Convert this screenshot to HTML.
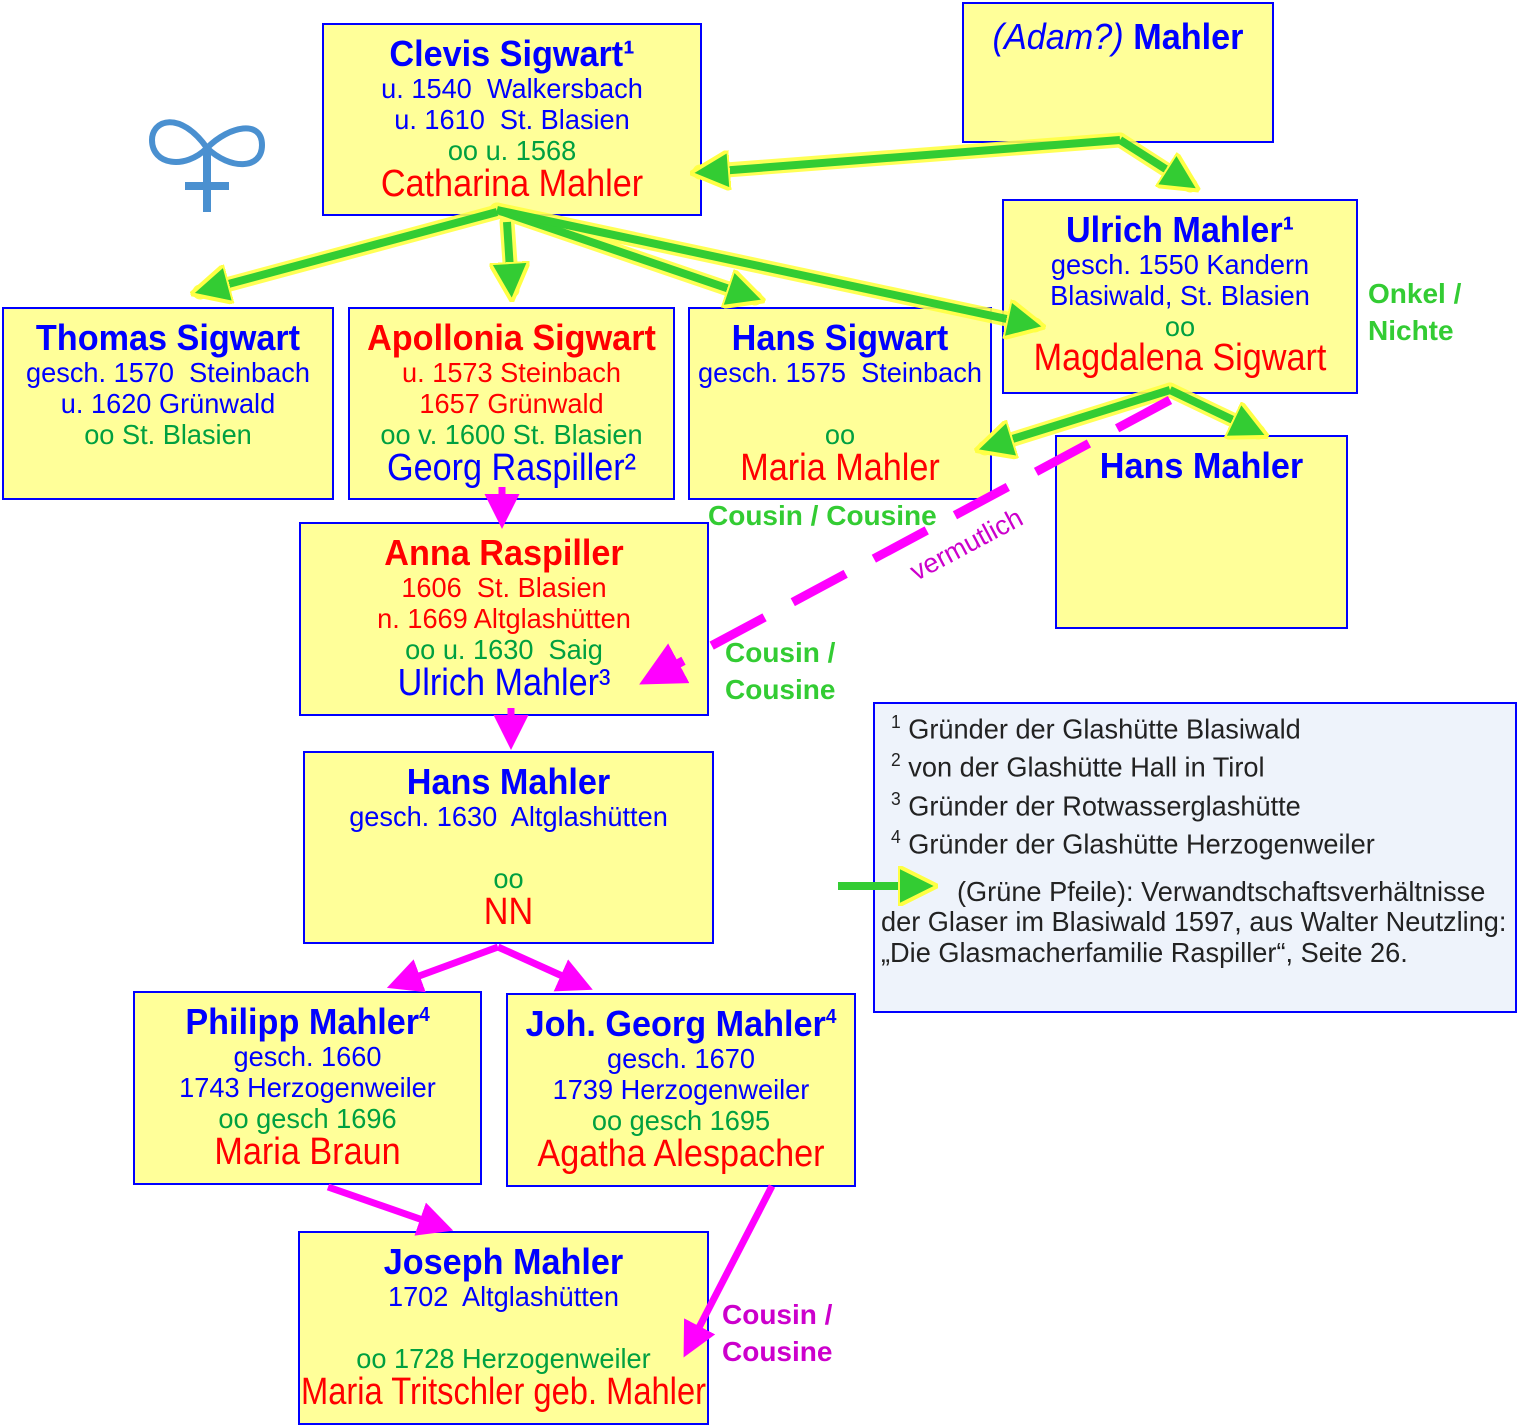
<!DOCTYPE html>
<html><head><meta charset="utf-8"><style>
body{margin:0;width:1518px;height:1427px;background:#fff;position:relative;overflow:hidden;font-family:"Liberation Sans",sans-serif;}
.b{position:absolute;background:#ffff99;border:2px solid #0000ff;box-sizing:border-box;text-align:center;}
.l{position:absolute;left:-60px;right:-60px;white-space:nowrap;transform:scaleX(0.97);}
.t,.tr{transform:scaleX(0.95);}
.nr,.nb{transform:scaleX(0.9);}
.t{font-weight:bold;font-size:36px;color:#0000ff;}
.tr{font-weight:bold;font-size:36px;color:#ff0000;}
.bl{font-size:28px;color:#0000ff;}
.rd{font-size:28px;color:#ff0000;}
.gr{font-size:28px;color:#00a040;}
.nr{font-size:38px;color:#ff0000;}
.nb{font-size:38px;color:#0000ff;}
.lg{position:absolute;white-space:nowrap;transform:scaleX(0.97);transform-origin:left top;}
.lab{position:absolute;font-family:"Liberation Sans",sans-serif;font-weight:bold;font-size:28px;line-height:37px;}
svg{position:absolute;left:0;top:0;}
</style></head><body>

<div class="b" style="left:322px;top:23px;width:380px;height:193px">
<div class="l t" style="top:8px">Clevis Sigwart¹</div>
<div class="l bl" style="top:48px">u. 1540&nbsp; Walkersbach</div>
<div class="l bl" style="top:79px">u. 1610&nbsp; St. Blasien</div>
<div class="l gr" style="top:110px">oo u. 1568</div>
<div class="l nr" style="top:138px">Catharina Mahler</div>
</div>

<div class="b" style="left:962px;top:2px;width:312px;height:141px">
<div class="l t" style="top:12px"><i style="font-weight:normal">(Adam?)</i> Mahler</div>
</div>

<div class="b" style="left:1002px;top:199px;width:356px;height:195px">
<div class="l t" style="top:8px">Ulrich Mahler¹</div>
<div class="l bl" style="top:48px">gesch. 1550 Kandern</div>
<div class="l bl" style="top:79px">Blasiwald, St. Blasien</div>
<div class="l gr" style="top:110px">oo</div>
<div class="l nr" style="top:136px">Magdalena Sigwart</div>
</div>

<div class="b" style="left:2px;top:307px;width:332px;height:193px">
<div class="l t" style="top:8px">Thomas Sigwart</div>
<div class="l bl" style="top:48px">gesch. 1570&nbsp; Steinbach</div>
<div class="l bl" style="top:79px">u. 1620 Grünwald</div>
<div class="l gr" style="top:110px">oo St. Blasien</div>
</div>

<div class="b" style="left:348px;top:307px;width:327px;height:193px">
<div class="l tr" style="top:8px">Apollonia Sigwart</div>
<div class="l rd" style="top:48px">u. 1573 Steinbach</div>
<div class="l rd" style="top:79px">1657 Grünwald</div>
<div class="l gr" style="top:110px">oo v. 1600 St. Blasien</div>
<div class="l nb" style="top:138px">Georg Raspiller²</div>
</div>

<div class="b" style="left:688px;top:307px;width:304px;height:193px">
<div class="l t" style="top:8px">Hans Sigwart</div>
<div class="l bl" style="top:48px">gesch. 1575&nbsp; Steinbach</div>
<div class="l gr" style="top:110px">oo</div>
<div class="l nr" style="top:138px">Maria Mahler</div>
</div>

<div class="b" style="left:1055px;top:435px;width:293px;height:194px">
<div class="l t" style="top:8px">Hans Mahler</div>
</div>

<div class="b" style="left:299px;top:522px;width:410px;height:194px">
<div class="l tr" style="top:8px">Anna Raspiller</div>
<div class="l rd" style="top:48px">1606&nbsp; St. Blasien</div>
<div class="l rd" style="top:79px">n. 1669 Altglashütten</div>
<div class="l gr" style="top:110px">oo u. 1630&nbsp; Saig</div>
<div class="l nb" style="top:138px">Ulrich Mahler³</div>
</div>

<div class="b" style="left:303px;top:751px;width:411px;height:193px">
<div class="l t" style="top:8px">Hans Mahler</div>
<div class="l bl" style="top:48px">gesch. 1630&nbsp; Altglashütten</div>
<div class="l gr" style="top:110px">oo</div>
<div class="l nr" style="top:138px">NN</div>
</div>

<div class="b" style="left:133px;top:991px;width:349px;height:194px">
<div class="l t" style="top:8px">Philipp Mahler<sup style="font-size:20px">4</sup></div>
<div class="l bl" style="top:48px">gesch. 1660</div>
<div class="l bl" style="top:79px">1743 Herzogenweiler</div>
<div class="l gr" style="top:110px">oo gesch 1696</div>
<div class="l nr" style="top:138px">Maria Braun</div>
</div>

<div class="b" style="left:506px;top:993px;width:350px;height:194px">
<div class="l t" style="top:8px">Joh. Georg Mahler<sup style="font-size:20px">4</sup></div>
<div class="l bl" style="top:48px">gesch. 1670</div>
<div class="l bl" style="top:79px">1739 Herzogenweiler</div>
<div class="l gr" style="top:110px">oo gesch 1695</div>
<div class="l nr" style="top:138px">Agatha Alespacher</div>
</div>

<div class="b" style="left:298px;top:1231px;width:411px;height:194px">
<div class="l t" style="top:8px">Joseph Mahler</div>
<div class="l bl" style="top:48px">1702&nbsp; Altglashütten</div>
<div class="l gr" style="top:110px">oo 1728 Herzogenweiler</div>
<div class="l nr" style="top:138px;transform:scaleX(0.86)">Maria Tritschler geb. Mahler</div>
</div>

<div class="b" style="left:873px;top:702px;width:644px;height:311px;background:#eef3fb;text-align:left;font-size:28px;color:#222;">
<div class="lg" style="top:8px;left:16px"><sup style="font-size:18px">1</sup> Gründer der Glashütte Blasiwald</div>
<div class="lg" style="top:46px;left:16px"><sup style="font-size:18px">2</sup> von der Glashütte Hall in Tirol</div>
<div class="lg" style="top:85px;left:16px"><sup style="font-size:18px">3</sup> Gründer der Rotwasserglashütte</div>
<div class="lg" style="top:123px;left:16px"><sup style="font-size:18px">4</sup> Gründer der Glashütte Herzogenweiler</div>
<div class="lg" style="top:172px;left:82px">(Grüne Pfeile): Verwandtschaftsverhältnisse</div>
<div class="lg" style="top:202px;left:6px">der Glaser im Blasiwald 1597, aus Walter Neutzling:</div>
<div class="lg" style="top:233px;left:6px">„Die Glasmacherfamilie Raspiller“, Seite 26.</div>
</div>

<div class="lab" style="left:1368px;top:275px;color:#33cc33">Onkel /<br>Nichte</div>
<div class="lab" style="left:708px;top:497px;color:#33cc33">Cousin / Cousine</div>
<div class="lab" style="left:725px;top:634px;color:#33cc33">Cousin /<br>Cousine</div>
<div class="lab" style="left:722px;top:1296px;color:#cc00cc">Cousin /<br>Cousine</div>
<div style="position:absolute;left:905px;top:560px;color:#cc00cc;font-family:'Liberation Sans',sans-serif;font-size:27px;transform:rotate(-28deg);transform-origin:left top">vermutlich</div>

<svg width="1518" height="1427" viewBox="0 0 1518 1427">
<defs>
<marker id="g" markerWidth="5" markerHeight="5" refX="3" refY="2.5" orient="auto" markerUnits="strokeWidth"><path d="M0,0 L5,2.5 L0,5 Z" fill="#33cc33" stroke="#ffff44" stroke-width="0.5"/></marker>
<marker id="m" markerWidth="5" markerHeight="5" refX="3" refY="2.5" orient="auto" markerUnits="strokeWidth"><path d="M0,0 L5,2.5 L0,5 Z" fill="#ff00ff"/></marker>
</defs>
<g stroke="#ffff44" stroke-width="15" fill="none" stroke-linecap="round" opacity="0.9">
<path d="M1120,140 L700,172"/><path d="M1120,140 L1190,185"/>
<path d="M497,212 L200,292"/><path d="M507,222 L512,290"/><path d="M497,210 L755,298"/><path d="M497,210 L1035,325"/>
<path d="M1170,390 L985,448"/><path d="M1170,390 L1258,432"/>
</g>
<g stroke="#33cc33" stroke-width="8" fill="none" marker-end="url(#g)">
<path d="M1120,140 L706,172"/><path d="M1120,140 L1186,182"/>
<path d="M497,212 L206,290"/><path d="M507,222 L511,286"/><path d="M497,210 L750,296"/><path d="M497,210 L1030,324"/>
<path d="M1170,390 L990,446"/><path d="M1170,390 L1254,430"/>
<path d="M838,886 L922,886"/>
</g>
<g stroke="#ff00ff" stroke-width="7" fill="none" marker-end="url(#m)">
<path d="M502,487 L502,515"/><path d="M511,708 L511,736"/>
<path d="M498,947 L400,983"/><path d="M498,947 L580,984"/>
<path d="M328,1187 L440,1226"/><path d="M772,1186 L690,1345"/>
</g>
<path d="M1170,400 L655,676" stroke="#ff00ff" stroke-width="9" fill="none" stroke-dasharray="60,32" marker-end="url(#m)"/>
<g stroke="#4a90d0" fill="none">
<path d="M207,148 C180,110 152,120 152,140 C152,165 185,170 207,148 C230,125 262,120 262,145 C262,170 230,170 207,148" stroke-width="6"/>
<path d="M207,148 L207,212 M185,186 L229,186" stroke-width="8"/>
</g>
</svg>
</body></html>
